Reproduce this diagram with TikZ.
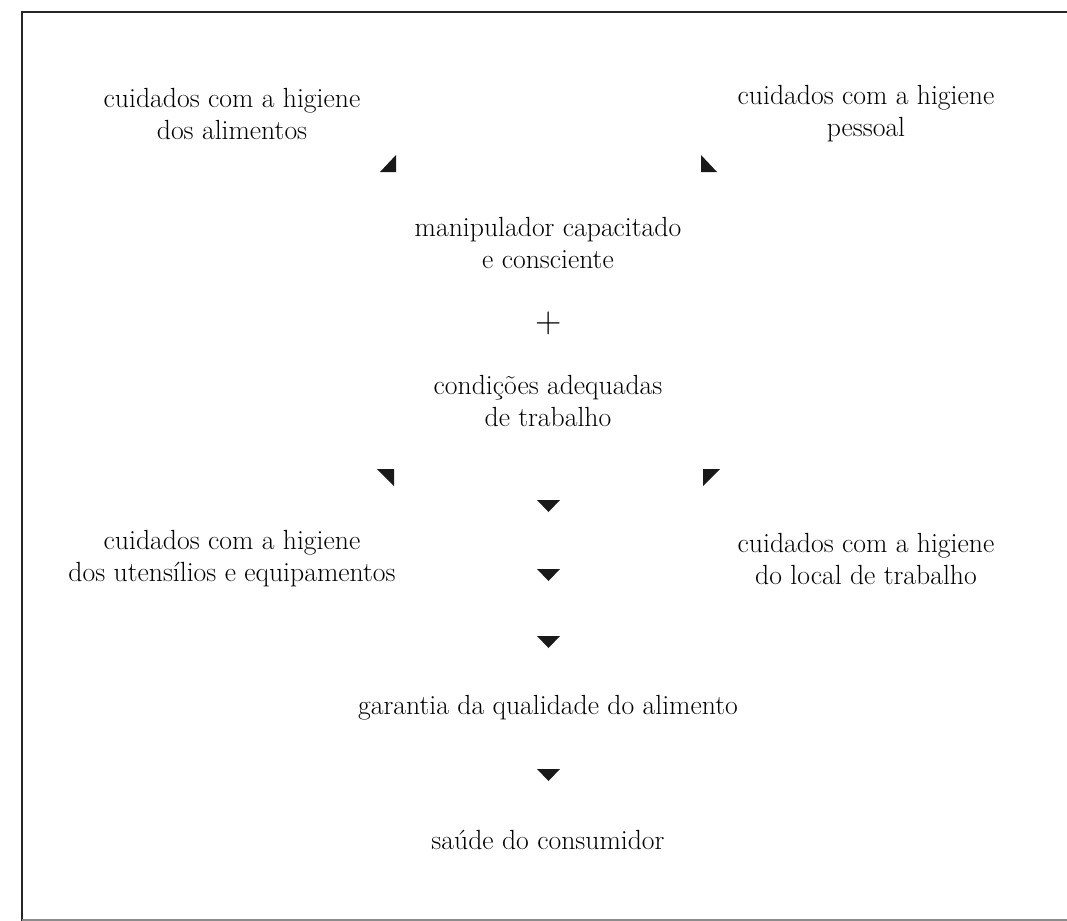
\documentclass[tikz,border=0pt]{standalone}
\tikzset{
	txt/.style={align=center, inner sep=0pt, font=\fontsize{19.7}{22.8}\selectfont},
	tip/.style={fill=black!90}
}
\begin{document}
\begin{tikzpicture}[x=0.025cm, y=-0.025cm]
		\useasboundingbox (0,0) rectangle (1067,921);
		\draw[line width=2pt, black!85] (1067,12) -- (22,12) -- (22,921);
		\draw[line width=1pt, black!45] (22,920) -- (1067,920);

		\node[txt] (alim) at (232,114) {cuidados com a higiene\\dos alimentos};
		\node[txt] (pess) at (866,114) {cuidados com a higiene\\pessoal};
		\node[txt] (manip) at (548,243) {manipulador capacitado\\e consciente};
		\node[font=\fontsize{26}{26}\selectfont, inner sep=0pt] (mais) at (549,323) {+};
		\node[txt] (cond) at (548,401) {condições adequadas\\de trabalho};
		\node[txt] (uten) at (232,559) {cuidados com a higiene\\dos utensílios e equipamentos};
		\node[txt] (local) at (866,559) {cuidados com a higiene\\do local de trabalho};
		\node[txt] (garan) at (548,708) {garantia da qualidade do alimento};
		\node[txt] (saude) at (548,840) {saúde do consumidor};

		\fill[tip] (380,172) -- (396,172) -- (396,155) -- cycle;
		\fill[tip] (701,155) -- (701,172) -- (717,172) -- cycle;
		\fill[tip] (377,469) -- (394,469) -- (394,486) -- cycle;
		\fill[tip] (703,469) -- (720,469) -- (703,486) -- cycle;
		\foreach \y in {500,569,636,769}
			\fill[tip] (537,\y) -- (560,\y) -- (548.5,\y+12) -- cycle;
	\end{tikzpicture}
\end{document}
